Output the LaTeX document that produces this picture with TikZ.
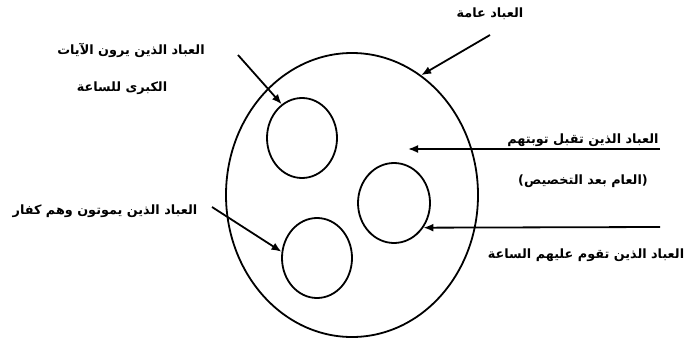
\documentclass[tikz,border=0pt]{standalone}
\usepackage{fontspec}
\usetikzlibrary{arrows.meta,shapes.geometric}
\newfontfamily\arabicfont[Script=Arabic]{DejaVu Sans}
\TeXXeTstate=1
\newcommand{\artxt}[1]{\beginR #1\endR}

\begin{document}
\begin{tikzpicture}[x=1pt,y=-1pt, every node/.style={font=\fontsize{12.8}{15}\selectfont\arabicfont\bfseries,inner sep=0pt}, ring/.style={draw,ellipse,line width=1.8pt}, arr/.style={-{Latex[length=10pt,width=8pt]},line width=1.8pt}]
\useasboundingbox (0,0) rectangle (685,345);
% the circles
\node[ring,minimum width=252pt,minimum height=284pt] (all) at (352,195) {};
\node[ring,minimum width=70pt,minimum height=80pt] (signs) at (302,138) {};
\node[ring,minimum width=72pt,minimum height=80pt] (hour) at (394,203) {};
\node[ring,minimum width=70pt,minimum height=80pt] (kafir) at (317,258) {};
% labels
\node (tall) at (490,14) {\artxt{العباد عامة}};
\node (tsigns) at (131,50) {\artxt{العباد الذين يرون الآيات}};
\node (tsigns2) at (122,88) {\artxt{الكبرى للساعة}};
\node (ttoba) at (583,140) {\artxt{العباد الذين تقبل توبتهم}};
\node (ttoba2) at (583,181) {\artxt{(العام بعد التخصيص)}};
\node (tkafir) at (105,211) {\artxt{العباد الذين يموتون وهم كفار}};
\node (thour) at (586,255) {\artxt{العباد الذين تقوم عليهم الساعة}};
% free ends
\coordinate (sall) at (490,35);
\coordinate (ssigns) at (238,55);
\coordinate (skafir) at (212,207);
\coordinate (stoba) at (660,149);
\coordinate (etoba) at (408,149);
\coordinate (shour) at (660,227);
\draw[arr] (sall)--(all.60); \draw[arr] (ssigns)--(signs.121); \draw[arr] (skafir)--(kafir.170);
\draw[arr] (stoba)--(etoba); \draw[arr] (shour)--(hour.-40);
\end{tikzpicture}
\end{document}
